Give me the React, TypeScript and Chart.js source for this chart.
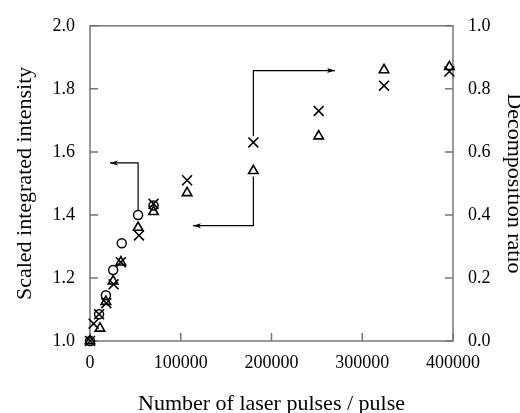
import React, { useEffect, useRef } from "react";
import { Chart, registerables } from "chart.js";

Chart.register(...registerables);

// ---- data ----
const circleX = [0, 10000, 17500, 25500, 35000, 53000, 70000];
const circleY = [1.0, 1.085, 1.145, 1.225, 1.31, 1.4, 1.43];

const triangleX = [0, 11000, 17500, 25500, 34000, 53000, 70000, 107000, 180000, 252000, 324000, 396000];
const triangleY = [1.0, 1.04, 1.125, 1.19, 1.25, 1.36, 1.41, 1.47, 1.54, 1.65, 1.86, 1.87];

const crossX = [0, 4000, 10000, 18000, 26000, 34000, 54000, 70000, 107000, 180000, 252000, 324000, 396000];
const crossY = [0, 0.055, 0.085, 0.12, 0.18, 0.25, 0.335, 0.435, 0.51, 0.63, 0.73, 0.81, 0.855];

const xTicks = [0, 100000, 200000, 300000, 400000];
const leftTicks = [1.0, 1.2, 1.4, 1.6, 1.8, 2.0];
const rightTicks = [0.0, 0.2, 0.4, 0.6, 0.8, 1.0];

// arrows (data coordinates)
const arrowCircleX = [53000, 53000, 22000];
const arrowCircleY = [1.415, 1.565, 1.565];
const arrowTriX = [180000, 180000, 113500];
const arrowTriY = [1.522, 1.366, 1.366];
const arrowCrossX = [180000, 180000, 270000];
const arrowCrossY = [0.65, 0.858, 0.858];

const FONT = "'Liberation Serif', 'Times New Roman', serif";

const toPts = (xs: number[], ys: number[]) => xs.map((x, i) => ({ x, y: ys[i] }));

const framePlugin = {
  id: "frameAndArrows",
  beforeDatasetsDraw(chart: any) {
    const { ctx, chartArea: a, scales } = chart;
    ctx.save();
    ctx.strokeStyle = "#777";
    ctx.lineWidth = 1.5;
    ctx.strokeRect(a.left, a.top, a.right - a.left, a.bottom - a.top);
    const tl = 8;
    ctx.beginPath();
    leftTicks.forEach((v) => {
      const y = scales.y.getPixelForValue(v);
      ctx.moveTo(a.left, y);
      ctx.lineTo(a.left + tl, y);
    });
    rightTicks.forEach((v) => {
      const y = scales.y2.getPixelForValue(v);
      ctx.moveTo(a.right, y);
      ctx.lineTo(a.right - tl, y);
    });
    xTicks.forEach((v) => {
      const x = scales.x.getPixelForValue(v);
      ctx.moveTo(x, a.bottom);
      ctx.lineTo(x, a.bottom - tl);
    });
    ctx.stroke();
    ctx.restore();
  },
  afterDatasetsDraw(chart: any) {
    const { ctx, scales } = chart;
    const drawArrow = (xs: number[], ys: number[], yScale: any) => {
      const px = xs.map((v) => scales.x.getPixelForValue(v));
      const py = ys.map((v) => yScale.getPixelForValue(v));
      ctx.save();
      ctx.strokeStyle = "#000";
      ctx.fillStyle = "#000";
      ctx.lineWidth = 1.2;
      ctx.beginPath();
      ctx.moveTo(px[0], py[0]);
      for (let i = 1; i < px.length; i++) ctx.lineTo(px[i], py[i]);
      ctx.stroke();
      const n = px.length - 1;
      const ang = Math.atan2(py[n] - py[n - 1], px[n] - px[n - 1]);
      const len = 8;
      const hw = 2.5;
      const bx = px[n] - Math.cos(ang) * len;
      const by = py[n] - Math.sin(ang) * len;
      ctx.beginPath();
      ctx.moveTo(px[n], py[n]);
      ctx.lineTo(bx - Math.sin(ang) * hw, by + Math.cos(ang) * hw);
      ctx.lineTo(bx + Math.cos(ang) * 2, by + Math.sin(ang) * 2);
      ctx.lineTo(bx + Math.sin(ang) * hw, by - Math.cos(ang) * hw);
      ctx.closePath();
      ctx.fill();
      ctx.restore();
    };
    drawArrow(arrowCircleX, arrowCircleY, scales.y);
    drawArrow(arrowTriX, arrowTriY, scales.y);
    drawArrow(arrowCrossX, arrowCrossY, scales.y2);
  },
};

export default function App() {
  const ref = useRef<HTMLCanvasElement>(null);

  useEffect(() => {
    if (!ref.current) return;
    const tickFont = { family: FONT, size: 18 };
    const chart = new Chart(ref.current, {
      type: "scatter",
      data: {
        datasets: [
          {
            label: "circle",
            data: toPts(circleX, circleY),
            yAxisID: "y",
            pointStyle: "circle",
            pointRadius: 4.5,
            borderWidth: 1.5,
            borderColor: "#000",
            backgroundColor: "rgba(0,0,0,0)",
            clip: false,
          },
          {
            label: "triangle",
            data: toPts(triangleX, triangleY),
            yAxisID: "y",
            pointStyle: "triangle",
            pointRadius: 5.5,
            borderWidth: 1.6,
            borderColor: "#000",
            backgroundColor: "rgba(0,0,0,0)",
            clip: false,
          },
          {
            label: "cross",
            data: toPts(crossX, crossY),
            yAxisID: "y2",
            pointStyle: "crossRot",
            pointRadius: 7,
            borderWidth: 1.6,
            borderColor: "#000",
            backgroundColor: "rgba(0,0,0,0)",
            clip: false,
          },
        ],
      } as any,
      options: {
        animation: false,
        responsive: false,
        maintainAspectRatio: false,
        events: [],
        layout: { padding: { top: 24, left: 0, right: 0, bottom: 0 } },
        plugins: { legend: { display: false }, tooltip: { enabled: false } },
        scales: {
          x: {
            type: "linear",
            position: "bottom",
            min: 0,
            max: 400000,
            afterBuildTicks: (s: any) => {
              s.ticks = xTicks.map((v) => ({ value: v }));
            },
            grid: { display: false, drawTicks: false },
            border: { display: false },
            ticks: {
              font: tickFont,
              color: "#000",
              padding: 11,
              maxRotation: 0,
              autoSkip: false,
              callback: (v: any) => String(v),
            },
            title: {
              display: true,
              text: "Number of laser pulses / pulse",
              font: { family: FONT, size: 22, lineHeight: 1 },
              color: "#000",
              padding: { top: 0, bottom: -2 },
            },
            afterFit: (s: any) => {
              s.height = 72;
            },
          },
          y: {
            type: "linear",
            position: "left",
            min: 1,
            max: 2,
            afterBuildTicks: (s: any) => {
              s.ticks = leftTicks.map((v) => ({ value: v }));
            },
            grid: { display: false, drawTicks: false },
            border: { display: false },
            ticks: {
              font: tickFont,
              color: "#000",
              padding: 15,
              autoSkip: false,
              callback: (v: any) => Number(v).toFixed(1),
            },
            title: {
              display: true,
              text: "Scaled integrated intensity",
              font: { family: FONT, size: 22, lineHeight: 1 },
              color: "#000",
              padding: { top: 14.5, bottom: 0 },
            },
            afterFit: (s: any) => {
              s.width = 90;
            },
          },
          y2: {
            type: "linear",
            position: "right",
            min: 0,
            max: 1,
            afterBuildTicks: (s: any) => {
              s.ticks = rightTicks.map((v) => ({ value: v }));
            },
            grid: { display: false, drawTicks: false },
            border: { display: false },
            ticks: {
              font: tickFont,
              color: "#000",
              padding: 15,
              autoSkip: false,
              callback: (v: any) => Number(v).toFixed(1),
            },
            title: {
              display: true,
              text: "Decomposition ratio",
              font: { family: FONT, size: 22, lineHeight: 1 },
              color: "#000",
              padding: { top: -5, bottom: 0 },
            },
            afterFit: (s: any) => {
              s.width = 67;
            },
          },
        },
      } as any,
      plugins: [framePlugin],
    });
    return () => chart.destroy();
  }, []);

  return (
    <div style={{ position: "fixed", left: 0, top: 0, width: 520, height: 413, background: "#fff" }}>
      <canvas ref={ref} width={520} height={413} style={{ display: "block", width: 520, height: 413 }} />
    </div>
  );
}
